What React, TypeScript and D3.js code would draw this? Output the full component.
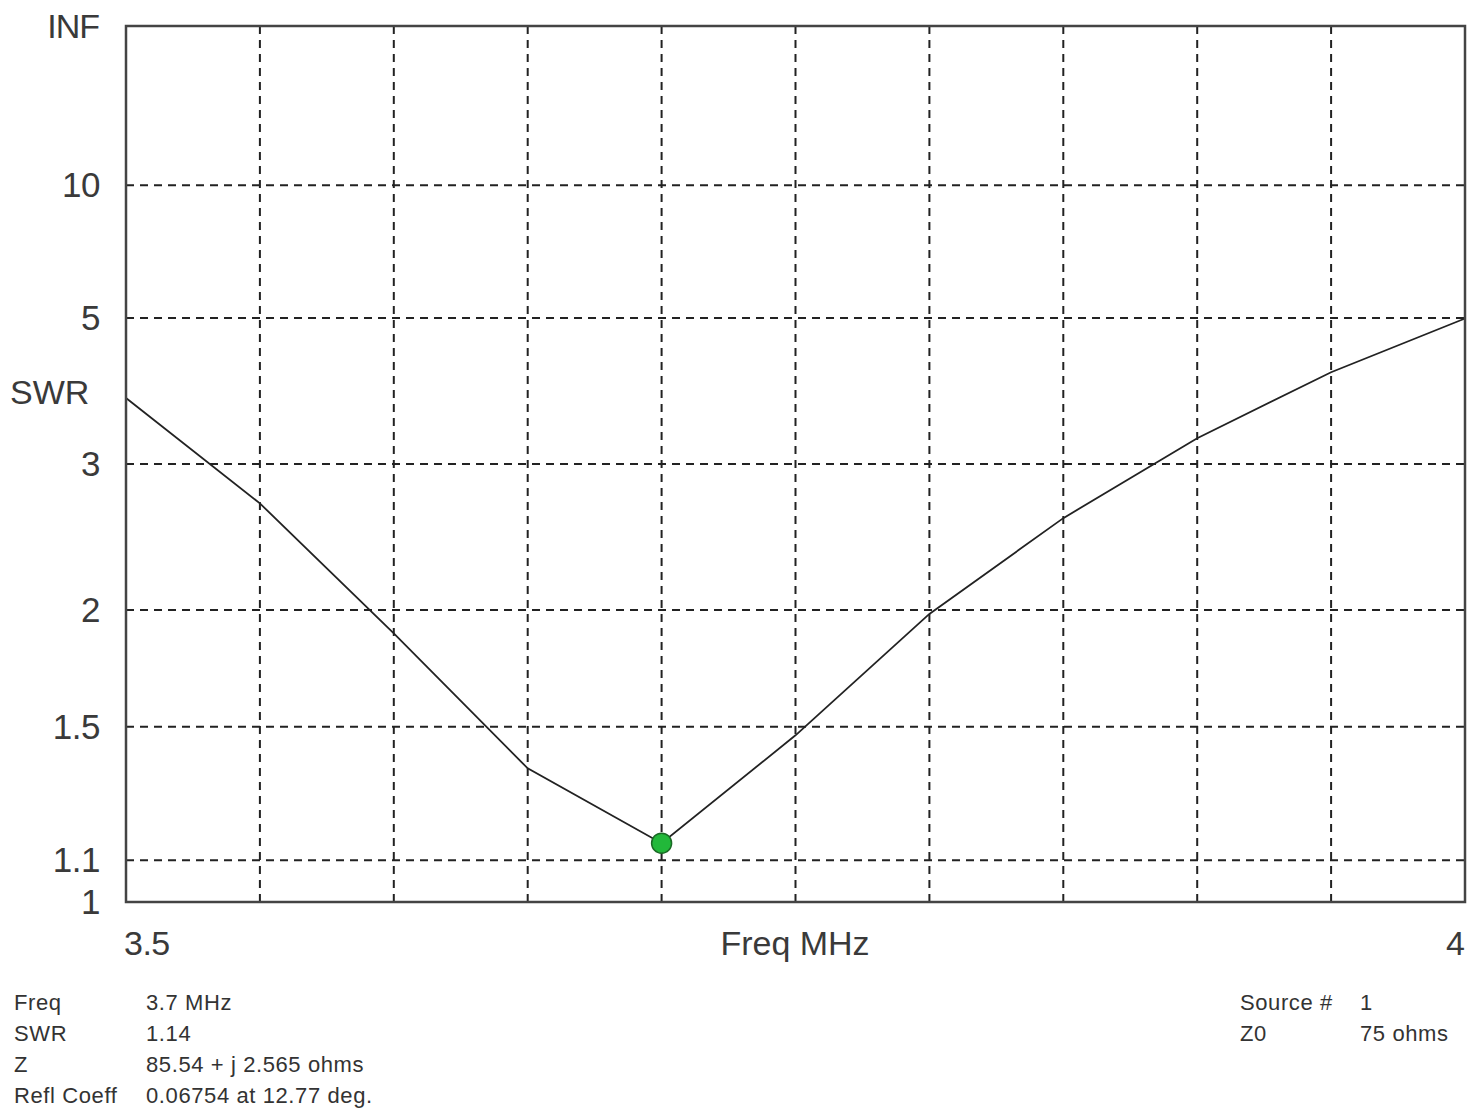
import React from "react";
import * as d3 from "d3";

const freqs = [3.5, 3.55, 3.6, 3.65, 3.7, 3.75, 3.8, 3.85, 3.9, 3.95, 4.0];
const swrValues = [3.71, 2.67, 1.885, 1.36, 1.144, 1.47, 1.98, 2.56, 3.25, 4.06, 4.99];
const yTicks = [1, 1.1, 1.5, 2, 3, 5, 10];
const xGrid = [3.55, 3.6, 3.65, 3.7, 3.75, 3.8, 3.85, 3.9, 3.95];
const markerFreq = 3.7;
const markerSwr = 1.144;
const infoLeft = [
  ["Freq", "3.7 MHz"],
  ["SWR", "1.14"],
  ["Z", "85.54 + j 2.565 ohms"],
  ["Refl Coeff", "0.06754 at 12.77 deg."],
];
const infoRight = [
  ["Source #", "1"],
  ["Z0", "75 ohms"],
];

const W = 1476, H = 1109;
const L = 126, R = 1465, T = 26, B = 902;

const rho = (s: number) => (s - 1) / (s + 1);

export default function App() {
  const x = d3.scaleLinear().domain([3.5, 4.0]).range([L, R]);
  const yr = d3.scaleLinear().domain([0, 1]).range([B, T]);
  const y = (s: number) => yr(rho(s));
  const line = d3
    .line<number>()
    .x((_, i) => x(freqs[i]))
    .y((d) => y(d));
  const font = "'Liberation Sans', Arial, sans-serif";
  const tickColor = "#3a3a3a";
  return (
    <svg width={W} height={H} style={{ position: "absolute", left: 0, top: 0, background: "#fff" }} fontFamily={font}>
      <rect x={0} y={0} width={W} height={H} fill="#fff" />
      {yTicks.filter((t) => t > 1).map((t) => (
        <line key={"h" + t} x1={L} x2={R} y1={y(t)} y2={y(t)} stroke="#222" strokeWidth={2} strokeDasharray="8 6" />
      ))}
      {xGrid.map((f) => (
        <line key={"v" + f} x1={x(f)} x2={x(f)} y1={T} y2={B} stroke="#222" strokeWidth={2} strokeDasharray="8 6" />
      ))}
      <path d={line(swrValues) || ""} fill="none" stroke="#222" strokeWidth={1.8} />
      <rect x={L} y={T} width={R - L} height={B - T} fill="none" stroke="#444" strokeWidth={2.5} />
      <circle cx={x(markerFreq)} cy={y(markerSwr)} r={10} fill="#22b83a" stroke="#1a6a25" strokeWidth={1.5} />
      {yTicks.map((t) => (
        <text key={"yt" + t} x={100} y={y(t) + 12} textAnchor="end" fontSize={35} fill={tickColor} letterSpacing={-0.5}>
          {String(t)}
        </text>
      ))}
      <text x={99} y={38} textAnchor="end" fontSize={34} fill={tickColor} letterSpacing={-1}>INF</text>
      <text x={10} y={404} fontSize={34} fill={tickColor}>SWR</text>
      <text x={124} y={955} fontSize={34} fill={tickColor} letterSpacing={-0.5}>3.5</text>
      <text x={1465} y={955} textAnchor="end" fontSize={34} fill={tickColor}>4</text>
      <text x={795} y={955} textAnchor="middle" fontSize={34} fill={tickColor}>Freq MHz</text>
      {infoLeft.map((r, i) => (
        <g key={"il" + i} fontSize={22} fill="#333" letterSpacing={0.6}>
          <text x={14} y={1010 + i * 31}>{r[0]}</text>
          <text x={146} y={1010 + i * 31}>{r[1]}</text>
        </g>
      ))}
      {infoRight.map((r, i) => (
        <g key={"ir" + i} fontSize={22} fill="#333" letterSpacing={0.6}>
          <text x={1240} y={1010 + i * 31}>{r[0]}</text>
          <text x={1360} y={1010 + i * 31}>{r[1]}</text>
        </g>
      ))}
    </svg>
  );
}
